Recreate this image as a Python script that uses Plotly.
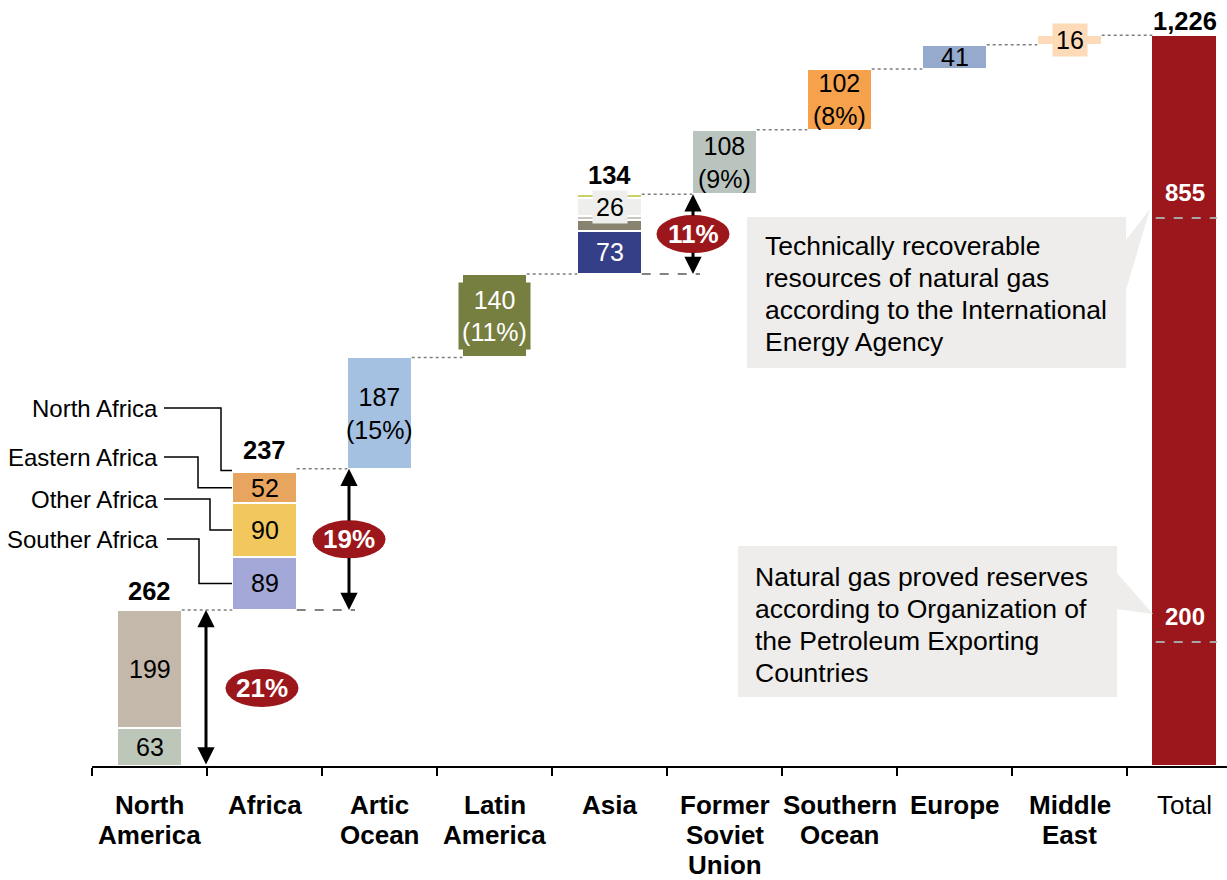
import plotly.graph_objects as go

# ---- data -------------------------------------------------------------
categories = ["North America", "Africa", "Artic Ocean", "Latin America", "Asia",
              "Former Soviet Union", "Southern Ocean", "Europe", "Middle East", "Total"]
axis_labels = ["<b>North<br>America</b>", "<b>Africa</b>", "<b>Artic<br>Ocean</b>",
               "<b>Latin<br>America</b>", "<b>Asia</b>", "<b>Former<br>Soviet<br>Union</b>",
               "<b>Southern<br>Ocean</b>", "<b>Europe</b>", "<b>Middle<br>East</b>", "Total"]

region_totals = [262, 237, 187, 140, 134, 108, 102, 41, 16]
total_value = 1226

# stacked pieces of every region, bottom to top
segment_values = [
    [63, 199],
    [89, 90, 52, 6],
    [187],
    [140],
    [73, 18, 7, 30, 6],
    [108],
    [102],
    [41],
    [16],
]
segment_labels = [
    ["63", "199"],
    ["89", "90", "52", ""],
    ["187<br>(15%)"],
    ["140<br>(11%)"],
    ["73", "", "", "26", ""],
    ["108<br>(9%)"],
    ["102<br>(8%)"],
    ["41"],
    ["16"],
]
total_labels = ["262", "237", "", "", "134", "", "", "", ""]

africa_parts = ["Souther Africa", "Other Africa", "Eastern Africa", "North Africa"]

share_regions = [0, 1, 4]
share_labels = ["21%", "19%", "11%"]

reserve_levels = [208, 920]
reserve_labels = ["200", "855"]

iea_text = "Technically recoverable<br>resources of natural gas<br>according to the International<br>Energy Agency"
opec_text = "Natural gas proved reserves<br>according to Organization of<br>the Petroleum Exporting<br>Countries"

# ---- styles -----------------------------------------------------------
segment_colors = [
    ["#BCC7BA", "#C4B8AB"],
    ["#A3A8D9", "#F2C75E", "#E8A55F", "#FFFFFF"],
    ["#A4C1E1"],
    ["#777F40"],
    ["#353F88", "#87836F", "#C9C7C0", "#EEEEEC", "#C9D16B"],
    ["#BAC4BF"],
    ["#F6A14B"],
    ["#95AACC"],
    ["#FDDAB8"],
]
white_text = {(3, 0), (4, 0)}
label_bg = {(3, 0): "#777F40", (4, 3): "#EEEEEC", (8, 0): "#FDDAB8"}
TOTAL_COLOR = "#9C171B"
FONT = "Liberation Sans, Arial, sans-serif"

# layout helpers (pixel -> data), used for decorations only
X0_PX, PX_CAT, AXIS_PX, YMAX = 92, 115, 766, 1286
PX_UNIT = AXIS_PX / YMAX


def xd(px):
    return (px - X0_PX) / PX_CAT - 0.5


def yd(py):
    return (AXIS_PX - py) / PX_UNIT


HW = 0.28  # half bar width

fig = go.Figure()
shapes = []
annotations = []

# ---- bars -------------------------------------------------------------
starts = []
level = 0
for i, vals in enumerate(segment_values):
    starts.append(level)
    base = level
    for j, v in enumerate(vals):
        fig.add_trace(go.Bar(x=[i], y=[v], base=[base], width=2 * HW,
                             marker=dict(color=segment_colors[i][j], line=dict(color="white", width=2)),
                             showlegend=False, hoverinfo="skip"))
        if segment_labels[i][j]:
            ann = dict(x=i, y=base + v / 2, text=segment_labels[i][j], showarrow=False,
                       font=dict(size=25, family=FONT,
                                 color="white" if (i, j) in white_text else "black"))
            if (i, j) in label_bg:
                ann.update(bgcolor=label_bg[(i, j)], borderpad=2)
                if i == 3:
                    ann.update(width=67, height=62)
                else:
                    ann.update(width=30, height=28)
            annotations.append(ann)
        base += v
    level = starts[i] + region_totals[i]
    if total_labels[i]:
        annotations.append(dict(x=i, y=level, text="<b>" + total_labels[i] + "</b>", showarrow=False,
                                yanchor="bottom", yshift=3, font=dict(size=25.5, family=FONT, color="black")))

ti = len(categories) - 1
fig.add_trace(go.Bar(x=[ti], y=[total_value], base=[0], width=2 * HW,
                     marker=dict(color=TOTAL_COLOR, line=dict(color="white", width=1)),
                     showlegend=False, hoverinfo="skip"))
annotations.append(dict(x=ti, y=total_value, text="<b>1,226</b>", showarrow=False, yanchor="bottom",
                        yshift=-1, font=dict(size=25.5, family=FONT, color="black")))
for lv, lab in zip(reserve_levels, reserve_labels):
    shapes.append(dict(type="line", x0=ti - HW + 0.03, x1=ti + HW, y0=lv, y1=lv,
                       line=dict(color="#A6A6A6", width=2, dash="dash")))
    annotations.append(dict(x=ti, y=lv, text="<b>" + lab + "</b>", showarrow=False, yanchor="bottom",
                            yshift=10, font=dict(size=24, family=FONT, color="white")))

# ---- connectors -------------------------------------------------------
tops = [s + t for s, t in zip(starts, region_totals)]
for i, top in enumerate(tops):
    shapes.append(dict(type="line", x0=i + HW, x1=i + 1 - HW, y0=top, y1=top,
                       line=dict(color="#7F7F7F", width=1.5, dash="dot")))

# ---- share arrows and badges ------------------------------------------
arrow_x = {0: xd(206), 1: xd(349), 4: xd(693)}
badge_x = {0: xd(262), 1: xd(349), 4: xd(693)}
bw, bh = 36.5 / PX_CAT, 19 / PX_UNIT
ARROW = dict(text="", showarrow=True, arrowhead=2, arrowsize=1.15, arrowwidth=3,
             arrowcolor="black", standoff=0, startstandoff=0, axref="x", ayref="y")

for r, lab in zip(share_regions, share_labels):
    lo, hi = starts[r], tops[r]
    mid = (lo + hi) / 2
    ax_ = arrow_x[r]
    if abs(badge_x[r] - ax_) > 0.2:
        # badge sits beside the arrow: one double-headed arrow
        annotations.append(dict(x=ax_, y=hi, ax=ax_, ay=lo, arrowside="end+start",
                                startarrowhead=2, startarrowsize=1.15, **ARROW))
    else:
        annotations.append(dict(x=ax_, y=hi, ax=ax_, ay=mid + bh * 0.9, **ARROW))
        annotations.append(dict(x=ax_, y=lo, ax=ax_, ay=mid - bh * 0.9, **ARROW))
    if r > 0:
        shapes.append(dict(type="line", x0=r + HW, x1=xd(700 if r == 4 else 355), y0=lo, y1=lo,
                           line=dict(color="#595959", width=1.5, dash="dash")))
    shapes.append(dict(type="circle", x0=badge_x[r] - bw, x1=badge_x[r] + bw, y0=mid - bh, y1=mid + bh,
                       fillcolor=TOTAL_COLOR, line=dict(width=0), layer="above"))
    annotations.append(dict(x=badge_x[r], y=mid, text="<b>" + lab + "</b>", showarrow=False,
                            font=dict(size=26, family=FONT, color="white")))

# ---- Africa breakdown labels ------------------------------------------
label_py = [539, 499, 457, 408]
corner_px = [199, 210, 198, 221]
start_px = [167, 164, 164, 164]
seg_base = starts[1]
for j, name in enumerate(africa_parts):
    v = segment_values[1][j]
    ly = yd(label_py[j])
    sy = seg_base + v / 2
    seg_base += v
    annotations.append(dict(x=xd(160), y=ly, text=name, showarrow=False, xanchor="right",
                            font=dict(size=24, family=FONT, color="black")))
    shapes.append(dict(type="path", path=f"M {xd(start_px[j])},{ly} L {xd(corner_px[j])},{ly} "
                                         f"L {xd(corner_px[j])},{sy} L {xd(232)},{sy}",
                       line=dict(color="black", width=1.5)))

# ---- callouts ---------------------------------------------------------
for (bx0, bx1, by0, by1), tri, txt, tx, first_py in [
    ((747, 1126, 217, 368), [(1126, 240), (1150, 209), (1126, 290)], iea_text, 763, 246),
    ((738, 1117, 546, 697), [(1116, 572), (1153, 614), (1116, 609)], opec_text, 753, 577),
]:
    shapes.append(dict(type="rect", x0=xd(bx0), x1=xd(bx1), y0=yd(by1), y1=yd(by0),
                       fillcolor="#EEEDEB", line=dict(width=0), layer="above"))
    path = "M " + " L ".join(f"{xd(px)},{yd(py)}" for px, py in tri) + " Z"
    shapes.append(dict(type="path", path=path, fillcolor="#EEEDEB", line=dict(width=0), layer="above"))
    for k, line in enumerate(txt.split("<br>")):
        annotations.append(dict(x=xd(tx), y=yd(first_py + 32 * k), text=line, showarrow=False,
                                xanchor="left", align="left",
                                font=dict(size=26.5, family=FONT, color="black")))

# ---- axis labels (one annotation per line for the tighter line pitch) --
for i, lab in enumerate(axis_labels):
    bold = lab.startswith("<b>")
    for k, line in enumerate(lab.replace("<b>", "").replace("</b>", "").split("<br>")):
        annotations.append(dict(x=i, y=0, text=f"<b>{line}</b>" if bold else line, showarrow=False,
                                yanchor="top", yshift=-22 - 30 * k,
                                font=dict(size=26, family=FONT, color="black")))

fig.update_layout(
    width=1227, height=880,
    margin=dict(l=X0_PX, r=0, t=0, b=880 - AXIS_PX, pad=0),
    plot_bgcolor="white", paper_bgcolor="white",
    barmode="overlay", bargap=0,
    shapes=shapes, annotations=annotations,
    xaxis=dict(range=[-0.5, xd(1227)], showgrid=False, zeroline=False,
               showline=True, linecolor="black", linewidth=2,
               tickvals=[i - 0.5 for i in range(len(categories))], ticks="outside",
               ticklen=8, tickwidth=2, tickcolor="black", showticklabels=False, fixedrange=True),
    yaxis=dict(range=[0, YMAX], visible=False, fixedrange=True),
)

# the page's default body margin would push the chart 8px off
fig.write_html("out.html", config=dict(displayModeBar=False),
               post_script="document.body.style.margin='0';")
